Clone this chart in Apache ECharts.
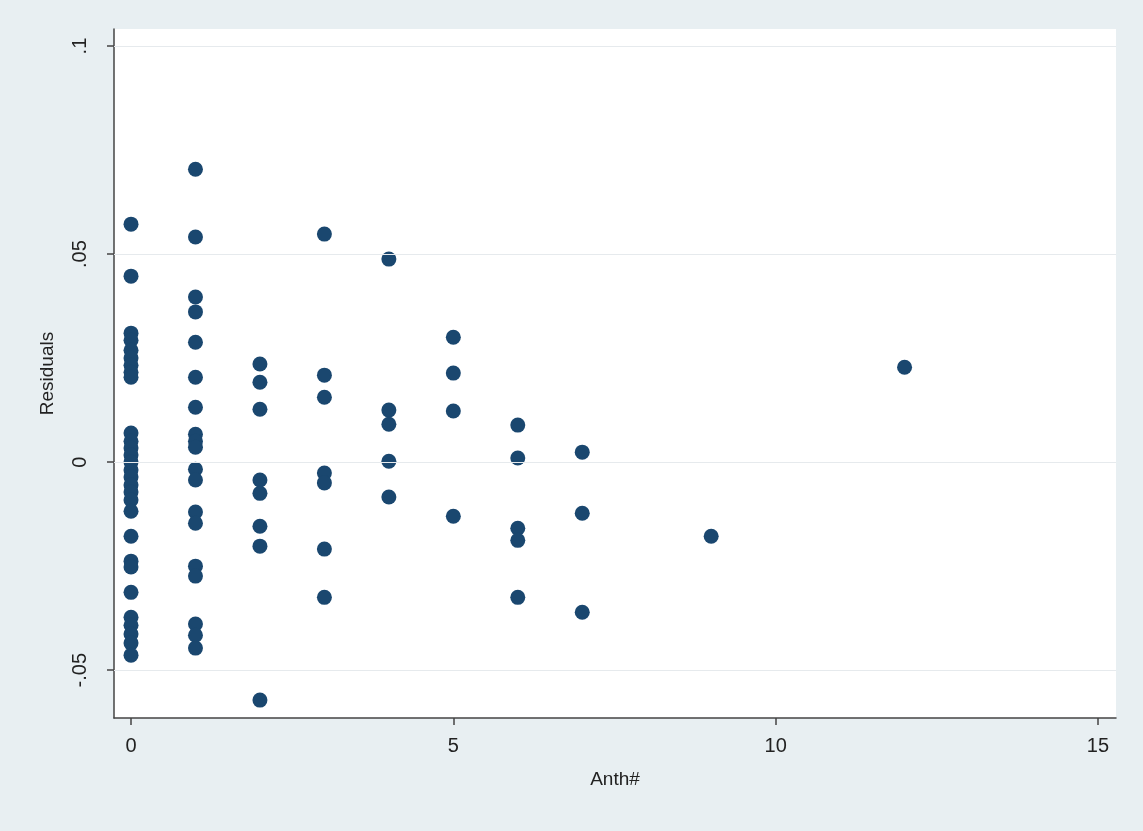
<!DOCTYPE html>
<html>
<head>
<meta charset="utf-8">
<script src="https://cdn.jsdelivr.net/npm/echarts@6/dist/echarts.min.js"></script>
<style>
  html, body { margin: 0; padding: 0; background: #e8eff2; }
  #chart { width: 1143px; height: 831px; }
</style>
</head>
<body>
<div id="chart"></div>
<script>
// Anth# values and residuals at each value
const anthValues = [0, 1, 2, 3, 4, 5, 6, 7, 9, 12];
const resAnth0 = [0.0572, 0.0447, 0.0310, 0.0293, 0.0269, 0.0250, 0.0233, 0.0216, 0.0204,
  0.0070, 0.0050, 0.0034, 0.0017, 0.0000, -0.0019, -0.0036, -0.0055, -0.0072, -0.0091,
  -0.0118, -0.0178, -0.0238, -0.0252, -0.0313, -0.0373, -0.0392, -0.0413, -0.0435, -0.0464];
const resAnth1 = [0.0704, 0.0541, 0.0397, 0.0361, 0.0288, 0.0204, 0.0132, 0.0067, 0.0050,
  0.0036, -0.0017, -0.0043, -0.0120, -0.0147, -0.0250, -0.0274, -0.0389, -0.0416, -0.0447];
const resAnth2 = [0.0236, 0.0192, 0.0127, -0.0043, -0.0075, -0.0154, -0.0202, -0.0572];
const resAnth3 = [0.0548, 0.0209, 0.0156, -0.0026, -0.0050, -0.0209, -0.0325];
const resAnth4 = [0.0488, 0.0125, 0.0091, 0.0002, -0.0084];
const resAnth5 = [0.0300, 0.0214, 0.0123, -0.0130];
const resAnth6 = [0.0089, 0.0010, -0.0159, -0.0188, -0.0325];
const resAnth7 = [0.0024, -0.0123, -0.0361];
const resAnth9 = [-0.0178];
const resAnth12 = [0.0228];
const residualGroups = [resAnth0, resAnth1, resAnth2, resAnth3, resAnth4, resAnth5, resAnth6, resAnth7, resAnth9, resAnth12];

const xTicks = [0, 5, 10, 15];
const yTicks = [-0.05, 0, 0.05, 0.1];
const yTickLabels = ['-.05', '0', '.05', '.1'];

const points = [];
anthValues.forEach((a, i) => residualGroups[i].forEach(r => points.push([a, r])));

const font = 'Liberation Sans, Arial, Helvetica, sans-serif';
const chart = echarts.init(document.getElementById('chart'));
chart.setOption({
  backgroundColor: '#e8eff2',
  animation: false,
  grid: {
    left: 114, top: 29, right: 27, bottom: 113,
    show: true, backgroundColor: '#ffffff', borderWidth: 0
  },
  xAxis: {
    type: 'value', min: -0.264, max: 15.28,
    name: 'Anth#', nameLocation: 'middle', nameGap: 52,
    nameTextStyle: { fontFamily: font, fontSize: 19, color: '#222' },
    axisLine: { show: true, onZero: false, lineStyle: { color: '#444', width: 1.5 } },
    axisTick: { show: true, customValues: xTicks, length: 7, lineStyle: { color: '#444', width: 1.5 } },
    axisLabel: { customValues: xTicks, fontFamily: font, fontSize: 20, color: '#222', margin: 18 },
    splitLine: { show: false }
  },
  yAxis: {
    type: 'value', min: -0.0615, max: 0.1041,
    name: 'Residuals', nameLocation: 'middle', nameGap: 57, nameRotate: 90,
    nameTextStyle: { fontFamily: font, fontSize: 19, color: '#222' },
    axisLine: { show: true, onZero: false, lineStyle: { color: '#444', width: 1.5 } },
    axisTick: { show: true, customValues: yTicks, length: 7, lineStyle: { color: '#444', width: 1.5 } },
    axisLabel: {
      customValues: yTicks, rotate: 90, fontFamily: font, fontSize: 20, color: '#222', margin: 24,
      formatter: v => { const i = yTicks.findIndex(t => Math.abs(t - v) < 1e-9); return i >= 0 ? yTickLabels[i] : ''; }
    },
    splitLine: { show: false }
  },
  series: [
    {
      type: 'scatter', data: [], silent: true, z: 1,
      markLine: {
        silent: true, symbol: 'none', label: { show: false },
        lineStyle: { color: '#e6eaed', width: 1.2, type: 'solid' },
        data: yTicks.map(t => ({ yAxis: t }))
      }
    },
    {
      type: 'scatter', data: points, z: 3,
      symbol: 'circle', symbolSize: 15,
      itemStyle: { color: '#1a476f', opacity: 1 }
    }
  ]
});
</script>
</body>
</html>
